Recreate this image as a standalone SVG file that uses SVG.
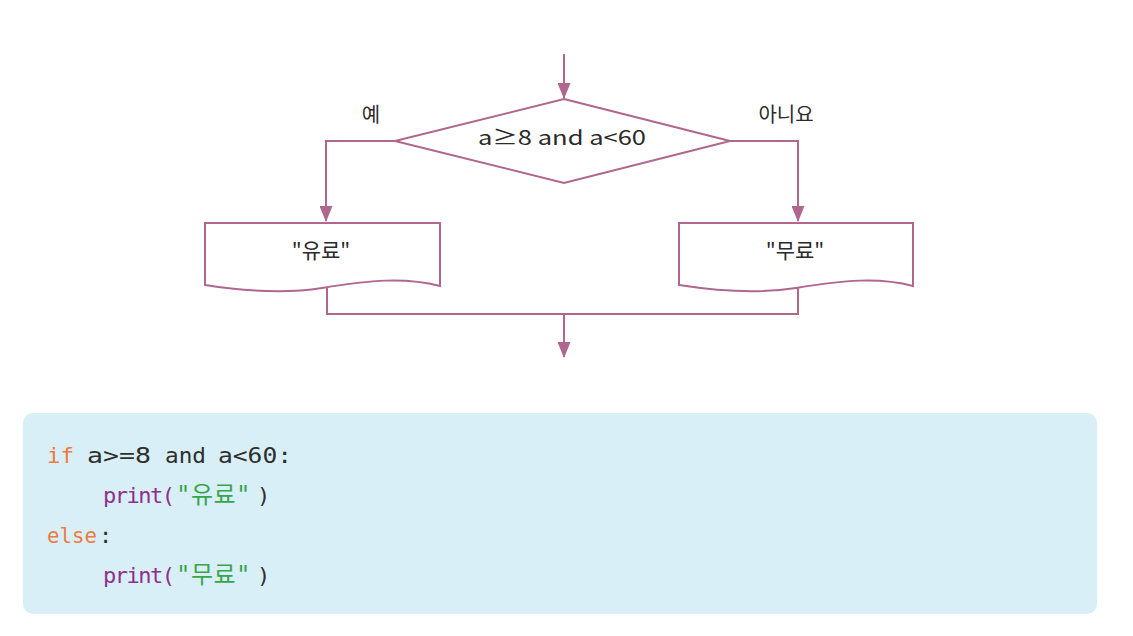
<svg xmlns="http://www.w3.org/2000/svg" width="1133" height="636" viewBox="0 0 1133 636">
<style>
.ln{fill:none;stroke:#b0678e;stroke-width:2}
.shape{fill:#fff;stroke:#b0678e;stroke-width:2}
.t{font-family:"Noto Sans CJK KR","Liberation Sans",sans-serif;fill:#2a2a2a}
.c{font-family:"DejaVu Sans Mono","Noto Sans CJK KR",monospace;font-size:22px}
.k{fill:#ef7a40}
.p{fill:#8e2e8e;letter-spacing:-1.5px}
.s{fill:#3aa64c;font-size:24px;letter-spacing:0.5px}
.d{fill:#2e2e2e}
</style>
<defs>
<marker id="ah" viewBox="0 0 16 13" refX="15" refY="6.5" markerWidth="16" markerHeight="13" markerUnits="userSpaceOnUse" orient="auto">
<path d="M0,0 L16,6.5 L0,13 Z" fill="#b0678e"/>
</marker>
</defs>
<rect width="1133" height="636" fill="#fff"/>
<g id="connectors">
<line class="ln" x1="564" y1="54" x2="564" y2="98" marker-end="url(#ah)"/>
<polyline class="ln" points="395,141 326,141 326,221" marker-end="url(#ah)"/>
<polyline class="ln" points="730,141 798,141 798,221" marker-end="url(#ah)"/>
<polyline class="ln" points="327,287 327,314 798,314 798,287"/>
<line class="ln" x1="564" y1="314" x2="564" y2="357" marker-end="url(#ah)"/>
</g>
<g id="decision">
<polygon class="shape" points="564,99 730,141 564,183 395,141"/>
<text class="t" x="562" y="145" font-size="20" text-anchor="middle" textLength="168" lengthAdjust="spacingAndGlyphs">a≥8 and a&lt;60</text>
</g>
<g id="label-yes"><text class="t" x="371" y="122" font-size="20" text-anchor="middle">예</text></g>
<g id="label-no"><text class="t" x="786" y="122" font-size="20" text-anchor="middle">아니요</text></g>
<g id="out-paid">
<path class="shape" d="M205,223 H440 V286 C405,277 370,280 322,288 C290,293 250,292 205,285 Z"/>
<text class="t" x="321" y="258" font-size="21" text-anchor="middle">"유료"</text>
</g>
<g id="out-free">
<path class="shape" d="M679,223 H913 V286 C879,277 844,280 796,288 C764,293 724,292 679,285 Z"/>
<text class="t" x="795" y="258" font-size="21" text-anchor="middle">"무료"</text>
</g>
<g id="code">
<rect x="23" y="413" width="1074" height="201" rx="10" fill="#d9eff7"/>
<text class="c" y="463" font-size="21"><tspan class="k" x="47" textLength="27" lengthAdjust="spacingAndGlyphs">if</tspan><tspan class="d" x="87" textLength="64" lengthAdjust="spacingAndGlyphs">a&gt;=8</tspan><tspan class="d" x="165" textLength="41" lengthAdjust="spacingAndGlyphs">and</tspan><tspan class="d" x="218" textLength="74" lengthAdjust="spacingAndGlyphs">a&lt;60:</tspan></text>
<text class="c" y="503"><tspan class="p" x="103">print(</tspan><tspan class="s" x="176">"유료"</tspan><tspan class="d" x="257">)</tspan></text>
<text class="c" y="543"><tspan class="k" x="47" textLength="50" lengthAdjust="spacingAndGlyphs">else</tspan><tspan class="d" x="99">:</tspan></text>
<text class="c" y="583"><tspan class="p" x="103">print(</tspan><tspan class="s" x="176">"무료"</tspan><tspan class="d" x="257">)</tspan></text>
</g>
</svg>
